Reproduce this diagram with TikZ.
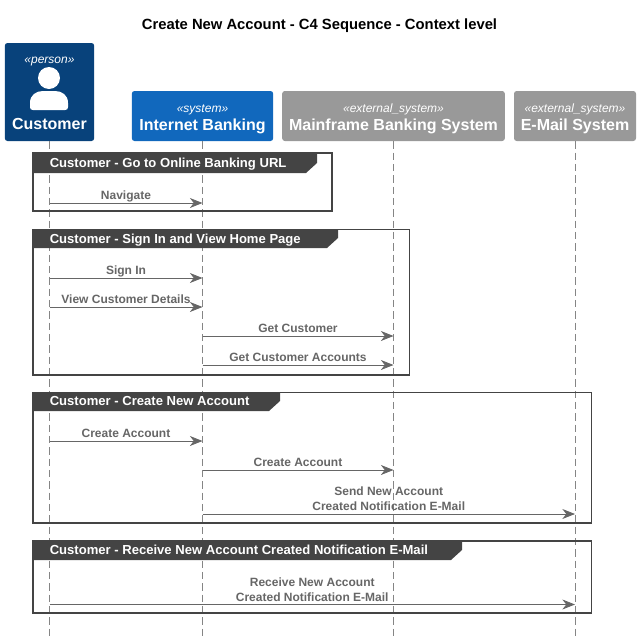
\documentclass[tikz,border=0pt]{standalone}
\usepackage{fontspec}
\setmainfont{Liberation Sans}
\usetikzlibrary{positioning, arrows.meta}
\definecolor{PersonColor}{RGB}{8,66,123}
\definecolor{SystemColor}{RGB}{17,104,189}
\definecolor{ExternalColor}{RGB}{153,153,153}
\definecolor{GroupColor}{RGB}{68,68,68}
\definecolor{MsgColor}{RGB}{102,102,102}
\newcommand{\stereo}[1]{{\rule{0pt}{10.75pt}\fontsize{9pt}{11pt}\selectfont\mdseries\itshape #1}}
\tikzstyle{actorbox} = [rectangle, rounded corners=2pt, text=white, align=center, font=\fontsize{12pt}{13.5pt}\selectfont\bfseries, inner sep=0pt, minimum height=37.5pt]
\tikzstyle{lifeline} = [thin, MsgColor!80, dash pattern=on 5.5pt off 3pt]
\tikzstyle{msg} = [semithick, MsgColor, -{Stealth[length=9.5pt,width=7.5pt,inset=3pt]}]
\tikzstyle{msglabel} = [above=-1.2pt, text=MsgColor, text depth=1.9pt, align=center, inner sep=1.5pt, font=\fontsize{9pt}{11.2pt}\selectfont\bfseries]
\tikzstyle{groupframe} = [line width=1pt, GroupColor]
\tikzstyle{grouptab} = [fill=GroupColor, draw=none]
\tikzstyle{grouplabel} = [anchor=west, text=white, inner sep=0pt, text height=7pt, text depth=2pt, font=\fontsize{9.8pt}{11pt}\selectfont\bfseries]
\begin{document}
\begin{tikzpicture}[x=0.75pt,y=-0.75pt]
    \useasboundingbox (0,0) rectangle (640,643);
    \node[font=\fontsize{11.1pt}{13pt}\selectfont\bfseries] (title) at (319.5,26) {Create New Account - C4 Sequence - Context level};
    % Participants
    \node[actorbox, fill=PersonColor, minimum width=67pt, minimum height=73.5pt] (customer) at (49.5,92) {};
    \node[actorbox, fill=SystemColor, minimum width=106pt] (banking) at (202.5,116) {\stereo{«system»}\\Internet Banking};
    \node[actorbox, fill=ExternalColor, minimum width=167pt] (mainframe) at (393.5,116) {\stereo{«external\_system»}\\Mainframe Banking System};
    \node[actorbox, fill=ExternalColor, minimum width=91.5pt] (email) at (575,116) {\stereo{«external\_system»}\\E-Mail System};
    \node[text=white, font=\fontsize{9pt}{11pt}\selectfont\itshape] (customertype) at (49.5,61.5) {«person»};
    \node[text=white, font=\fontsize{12pt}{14pt}\selectfont\bfseries] (customername) at (49.5,124) {Customer};
    % Person icon
    \fill[white] (49,78) circle (11);
    \fill[white] (30,107) -- (30,103) .. controls (30,95) and (36,91) .. (43,91) -- (55,91) .. controls (62,91) and (68,95) .. (68,103) -- (68,107) .. controls (68,109) and (67,110) .. (65,110) -- (33,110) .. controls (31,110) and (30,109) .. (30,107) -- cycle;
    % Lifelines
    \coordinate (customerend) at (customer.south |- 0,637);
    \coordinate (bankingend) at (banking.south |- 0,637);
    \coordinate (mainframeend) at (mainframe.south |- 0,637);
    \coordinate (emailend) at (email.south |- 0,637);
    \draw[lifeline] (customer) -- (customerend);
    \draw[lifeline] (banking) -- (bankingend);
    \draw[lifeline] (mainframe) -- (mainframeend);
    \draw[lifeline] (email) -- (emailend);
    % Message end points
    \coordinate (navfrom) at (customer |- 0,203);
    \coordinate (navto) at (banking |- 0,203);
    \coordinate (signfrom) at (customer |- 0,278);
    \coordinate (signto) at (banking |- 0,278);
    \coordinate (viewfrom) at (customer |- 0,307);
    \coordinate (viewto) at (banking |- 0,307);
    \coordinate (getfrom) at (banking |- 0,336);
    \coordinate (getto) at (mainframe |- 0,336);
    \coordinate (accfrom) at (banking |- 0,365);
    \coordinate (accto) at (mainframe |- 0,365);
    \coordinate (createfrom) at (customer |- 0,441);
    \coordinate (createto) at (banking |- 0,441);
    \coordinate (storefrom) at (banking |- 0,470);
    \coordinate (storeto) at (mainframe |- 0,470);
    \coordinate (sendfrom) at (banking |- 0,514);
    \coordinate (sendto) at (email |- 0,514);
    \coordinate (recvfrom) at (customer |- 0,604.5);
    \coordinate (recvto) at (email |- 0,604.5);
    % Group frames
    \draw[groupframe] (33,153) rectangle (332,211);
    \fill[grouptab] (33,153) -- (317,153) -- (317,163) -- (306,173) -- (33,173) -- cycle;
    \node[grouplabel] (group1) at (49.5,164) {Customer - Go to Online Banking URL};
    \draw[groupframe] (33,229.5) rectangle (409.5,375);
    \fill[grouptab] (33,229.5) -- (338,229.5) -- (338,238) -- (327,248) -- (33,248) -- cycle;
    \node[grouplabel] (group2) at (49.5,240) {Customer - Sign In and View Home Page};
    \draw[groupframe] (33,392.5) rectangle (591.5,523);
    \fill[grouptab] (33,392.5) -- (280,392.5) -- (280,401) -- (269,411) -- (33,411) -- cycle;
    \node[grouplabel] (group3) at (49.5,402.5) {Customer - Create New Account};
    \draw[groupframe] (33,541) rectangle (591.5,613);
    \fill[grouptab] (33,541) -- (462,541) -- (462,550) -- (451,560) -- (33,560) -- cycle;
    \node[grouplabel] (group4) at (49.5,551.5) {Customer - Receive New Account Created Notification E-Mail};
    % Messages
    \draw[msg] (navfrom) -- node[msglabel] (navlabel) {Navigate} (navto);
    \draw[msg] (signfrom) -- node[msglabel] (signlabel) {Sign In} (signto);
    \draw[msg] (viewfrom) -- node[msglabel] (viewlabel) {View Customer Details} (viewto);
    \draw[msg] (getfrom) -- node[msglabel] (getlabel) {Get Customer} (getto);
    \draw[msg] (accfrom) -- node[msglabel] (acclabel) {Get Customer Accounts} (accto);
    \draw[msg] (createfrom) -- node[msglabel] (createlabel) {Create Account} (createto);
    \draw[msg] (storefrom) -- node[msglabel] (storelabel) {Create Account} (storeto);
    \draw[msg] (sendfrom) -- node[msglabel] (sendlabel) {Send New Account\\Created Notification E-Mail} (sendto);
    \draw[msg] (recvfrom) -- node[msglabel] (recvlabel) {Receive New Account\\Created Notification E-Mail} (recvto);
\end{tikzpicture}
\end{document}
